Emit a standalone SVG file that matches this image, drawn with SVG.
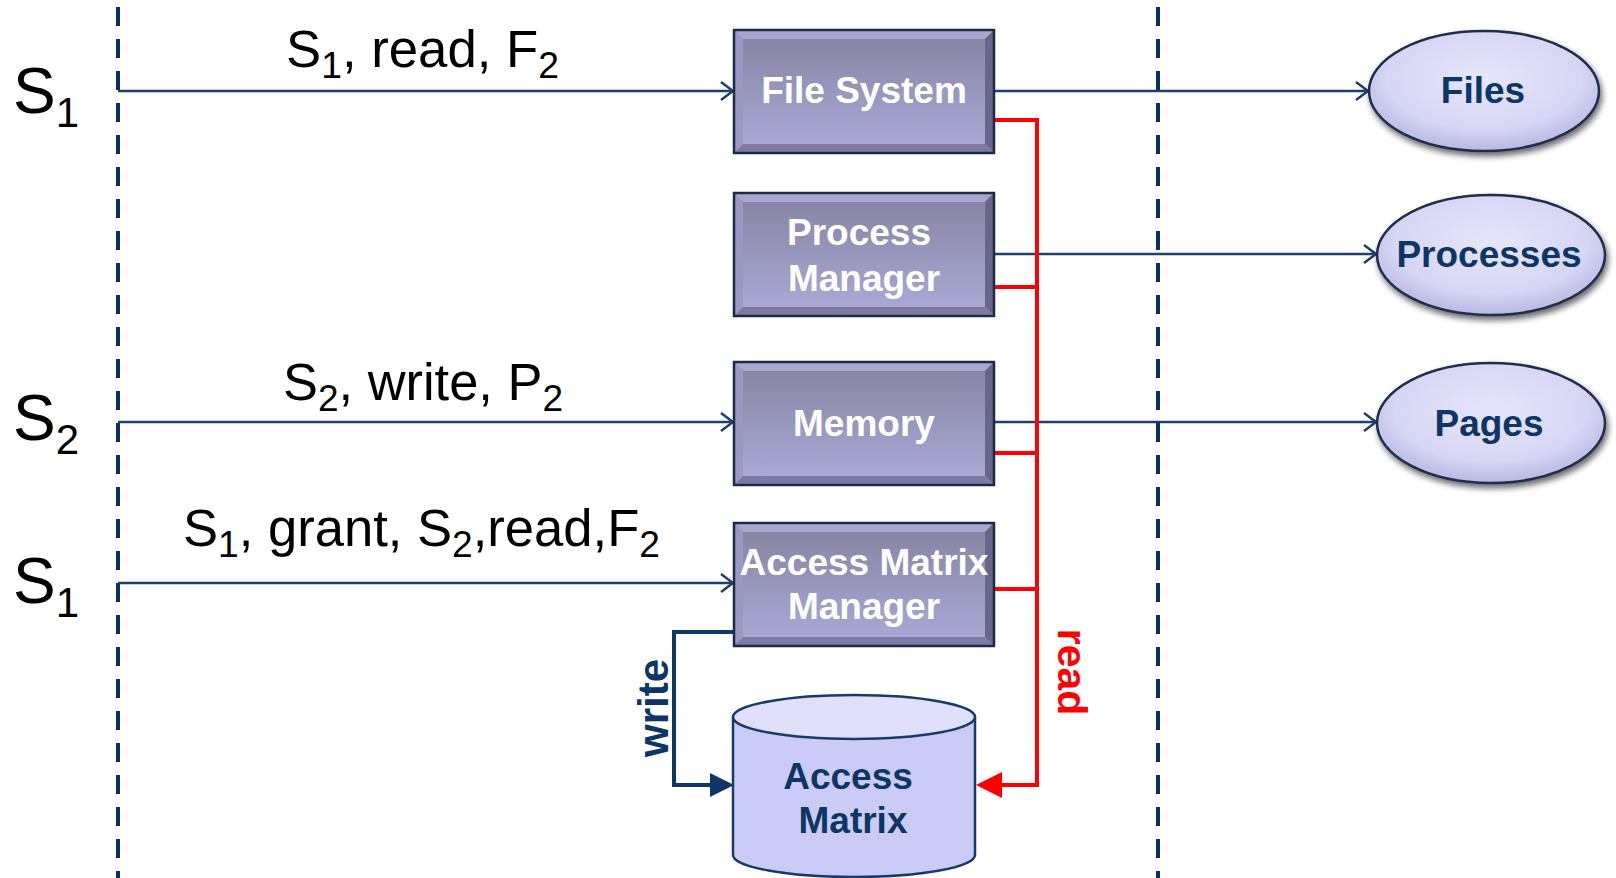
<svg xmlns="http://www.w3.org/2000/svg" xmlns:xlink="http://www.w3.org/1999/xlink" width="1616" height="878" viewBox="0 0 1616 878">
<style>
  .lbl { font-family: "Liberation Sans", Arial, sans-serif; fill: #000; }
  .boxt { font-family: "Liberation Sans", Arial, sans-serif; font-weight: bold; font-size: 37px; fill: #ffffff; text-anchor: middle; }
  .navyt { font-family: "Liberation Sans", Arial, sans-serif; font-weight: bold; font-size: 37px; fill: #0d3566; text-anchor: middle; }
  .lane { stroke: #0b2f5f; stroke-width: 4; stroke-dasharray: 19 13; fill: none; }
  .flow { stroke: #1d3f6e; stroke-width: 2.5; fill: none; marker-end: url(#open); }
  .red { stroke: #ff0000; stroke-width: 4; fill: none; }
  .wr { stroke: #0d3566; stroke-width: 4; fill: none; }
</style>
<defs>
  <marker id="open" viewBox="0 0 14 20" refX="13" refY="10" markerWidth="14" markerHeight="20" markerUnits="userSpaceOnUse" orient="auto">
    <path d="M1,1 L13,10 L1,19" fill="none" stroke="#1d3f6e" stroke-width="2.5"/>
  </marker>
  <linearGradient id="boxg" x1="0" y1="0" x2="0" y2="1">
    <stop offset="0" stop-color="#84839f"/>
    <stop offset="1" stop-color="#acabda"/>
  </linearGradient>
  <radialGradient id="ellg" cx="0.5" cy="0.4" r="0.6">
    <stop offset="0" stop-color="#e6e6fb"/>
    <stop offset="0.7" stop-color="#d6d6f5"/>
    <stop offset="1" stop-color="#b8b8e2"/>
  </radialGradient>
  <filter id="sh" x="-10%" y="-10%" width="125%" height="130%">
    <feGaussianBlur in="SourceAlpha" stdDeviation="3"/>
    <feOffset dx="2" dy="4" result="b"/>
    <feComponentTransfer><feFuncA type="linear" slope="0.6"/></feComponentTransfer>
    <feMerge><feMergeNode/><feMergeNode in="SourceGraphic"/></feMerge>
  </filter>
  <g id="box">
    <rect x="0" y="0" width="260" height="123" fill="url(#boxg)"/>
    <polygon points="0,0 260,0 251,9 9,9" fill="#a9a7cf"/>
    <polygon points="0,0 9,9 9,114 0,123" fill="#9b99c3"/>
    <polygon points="260,0 260,123 251,114 251,9" fill="#67658c"/>
    <polygon points="0,123 260,123 251,114 9,114" fill="#7d7ba4"/>
    <rect x="0" y="0" width="260" height="123" fill="none" stroke="#1b2a45" stroke-width="2.5"/>
  </g>
</defs>

<rect width="1616" height="878" fill="#ffffff"/>

<g id="lanes">
  <line class="lane" x1="118" y1="7" x2="118" y2="878"/>
  <line class="lane" x1="1158" y1="7" x2="1158" y2="878"/>
</g>

<g id="subjects">
  <text class="lbl" x="13" y="113" font-size="64">S<tspan font-size="42" dy="14">1</tspan></text>
  <text class="lbl" x="13" y="440" font-size="64">S<tspan font-size="42" dy="14">2</tspan></text>
  <text class="lbl" x="13" y="603" font-size="64">S<tspan font-size="42" dy="14">1</tspan></text>
</g>

<g id="connectors">
  <line class="flow" x1="118" y1="91" x2="733" y2="91"/>
  <line class="flow" x1="118" y1="422" x2="733" y2="422"/>
  <line class="flow" x1="118" y1="583" x2="733" y2="583"/>
  <line class="flow" x1="994" y1="91" x2="1368" y2="91"/>
  <line class="flow" x1="994" y1="254" x2="1376" y2="254"/>
  <line class="flow" x1="994" y1="422" x2="1376" y2="422"/>
  <path class="wr" d="M736,632 L674,632 L674,785 L712,785"/>
  <polygon points="734,785 710,773 710,797" fill="#0d3566"/>
  <path class="red" d="M994,120 H1037 V785 H1000 M994,287 H1037 M994,453 H1037 M994,589 H1037"/>
  <polygon points="976,785 1002,772 1002,798" fill="#ff0000"/>
  <text class="lbl" x="286" y="67" font-size="51" textLength="273" lengthAdjust="spacingAndGlyphs">S<tspan font-size="36" dy="11">1</tspan><tspan dy="-11">, read, F</tspan><tspan font-size="36" dy="11">2</tspan></text>
  <text class="lbl" x="283" y="400" font-size="51" textLength="280" lengthAdjust="spacingAndGlyphs">S<tspan font-size="36" dy="11">2</tspan><tspan dy="-11">, write, P</tspan><tspan font-size="36" dy="11">2</tspan></text>
  <text class="lbl" x="183" y="546" font-size="51" textLength="477" lengthAdjust="spacingAndGlyphs">S<tspan font-size="36" dy="11">1</tspan><tspan dy="-11">, grant, S</tspan><tspan font-size="36" dy="11">2</tspan><tspan dy="-11">,read,F</tspan><tspan font-size="36" dy="11">2</tspan></text>
  <text font-family="Liberation Sans, Arial, sans-serif" font-weight="bold" font-size="41" fill="#ff0000" text-anchor="middle" transform="translate(1058,672) rotate(90)">read</text>
  <text font-family="Liberation Sans, Arial, sans-serif" font-weight="bold" font-size="42" fill="#0d3566" text-anchor="middle" transform="translate(668,708) rotate(-90)">write</text>
</g>

<g id="file-system">
  <use xlink:href="#box" x="734" y="30"/>
  <text class="boxt" x="864" y="103">File System</text>
</g>
<g id="process-manager">
  <use xlink:href="#box" x="734" y="193"/>
  <text class="boxt" x="859" y="245">Process</text>
  <text class="boxt" x="864" y="291">Manager</text>
</g>
<g id="memory">
  <use xlink:href="#box" x="734" y="362"/>
  <text class="boxt" x="864" y="436">Memory</text>
</g>
<g id="access-matrix-manager">
  <use xlink:href="#box" x="734" y="523"/>
  <text class="boxt" x="864" y="575">Access Matrix</text>
  <text class="boxt" x="864" y="619">Manager</text>
</g>

<g id="access-matrix">
  <path d="M733,717 V855 A121,22 0 0 0 975,855 V717" fill="#cbcbf7" stroke="#163a6a" stroke-width="2.5"/>
  <ellipse cx="854" cy="717" rx="121" ry="22" fill="#e0e0fc" stroke="#163a6a" stroke-width="2.5"/>
  <text class="navyt" x="848" y="789">Access</text>
  <text class="navyt" x="853" y="833">Matrix</text>
</g>

<g id="files">
  <ellipse cx="1484" cy="91" rx="115" ry="60" fill="url(#ellg)" stroke="#1e2f4c" stroke-width="2.5" filter="url(#sh)"/>
  <text class="navyt" x="1483" y="103">Files</text>
</g>
<g id="processes">
  <ellipse cx="1491" cy="255" rx="114" ry="60" fill="url(#ellg)" stroke="#1e2f4c" stroke-width="2.5" filter="url(#sh)"/>
  <text class="navyt" x="1489" y="267">Processes</text>
</g>
<g id="pages">
  <ellipse cx="1491" cy="423" rx="114" ry="60" fill="url(#ellg)" stroke="#1e2f4c" stroke-width="2.5" filter="url(#sh)"/>
  <text class="navyt" x="1489" y="436">Pages</text>
</g>
</svg>
